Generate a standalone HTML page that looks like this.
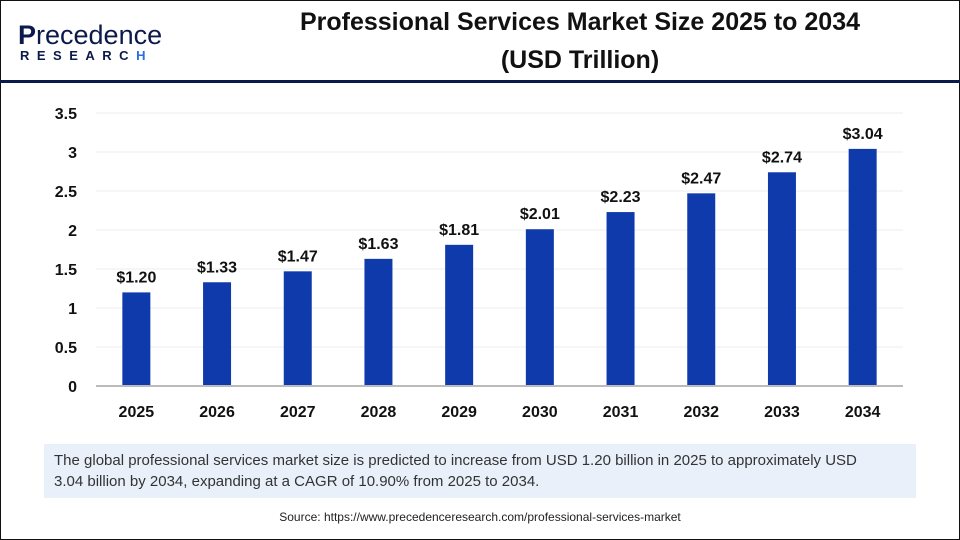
<!DOCTYPE html>
<html><head><meta charset="utf-8"><style>
body{margin:0;width:960px;height:540px;overflow:hidden;background:#fff;font-family:"Liberation Sans",Arial,sans-serif}
#frame{position:absolute;left:0;top:0;width:958px;height:538px;border:1px solid #111}
#sep{position:absolute;left:0;top:80px;width:960px;height:3px;background:#0b1a4a}
#title{position:absolute;left:230px;width:700px;top:3px;text-align:center;font-weight:bold;font-size:25px;line-height:38px;color:#111}
#logo1{position:absolute;left:18px;top:20px;font-size:27px;color:#0b1a4a;letter-spacing:0px}
#logo2{position:absolute;left:20px;top:48px;font-size:13px;font-weight:bold;color:#0b1a4a;letter-spacing:7.5px}
#note{position:absolute;left:44px;top:444px;width:872px;height:54px;background:#e9f0fa;font-size:15px;line-height:21px;color:#333;padding:6px 30px 6px 10px;box-sizing:border-box}
#src{position:absolute;top:510px;width:960px;text-align:center;font-size:12px;color:#222}
</style></head><body>
<div id="frame"></div>
<div id="logo1"><b>P</b>recedence</div>
<div id="logo2">RESEARC<span style="color:#2d6ee0">H</span></div>
<div id="title">Professional Services Market Size 2025 to 2034<br>(USD Trillion)</div>
<div id="sep"></div>
<svg id="chart" width="960" height="540" style="position:absolute;left:0;top:0"></svg>
<div id="note">The global professional services market size is predicted to increase from USD 1.20 billion in 2025 to approximately USD 3.04 billion by 2034, expanding at a CAGR of 10.90% from 2025 to 2034.</div>
<div id="src">Source: https://www.precedenceresearch.com/professional-services-market</div>
<script>
const categories=["2025","2026","2027","2028","2029","2030","2031","2032","2033","2034"];
const values=[1.20,1.33,1.47,1.63,1.81,2.01,2.23,2.47,2.74,3.04];
const valueLabels=["$1.20","$1.33","$1.47","$1.63","$1.81","$2.01","$2.23","$2.47","$2.74","$3.04"];
const yTicks=[0,0.5,1,1.5,2,2.5,3,3.5];
const yTickLabels=["0","0.5","1","1.5","2","2.5","3","3.5"];
const NS="http://www.w3.org/2000/svg";
const svg=document.getElementById('chart');
const x0=96,x1=903,y0=386,yTop=113,yMax=3.5;
const band=(x1-x0)/categories.length;
const y=v=>y0-(v/yMax)*(y0-yTop);
const xc=i=>x0+band*(i+0.5);
function mk(t,a){const e=document.createElementNS(NS,t);for(const k in a)e.setAttribute(k,a[k]);svg.appendChild(e);return e;}
yTicks.forEach((t,i)=>{
  if(t>0){const g=mk('line',{x1:x0,x2:x1,y1:y(t),y2:y(t),stroke:'#ececec','stroke-width':1});
  
  }
  const l=mk('text',{x:77,y:y(t)+6,'text-anchor':'end','font-size':16,'font-weight':'bold',fill:'#111'});
  l.textContent=yTickLabels[i];
  
  
});
categories.forEach((c,i)=>{
  const b=mk('rect',{x:xc(i)-14,y:y(values[i]),width:28,height:y0-y(values[i]),fill:'#0f3aab'});
  
  
  const v=mk('text',{x:xc(i),y:y(values[i])-10,'text-anchor':'middle','font-size':16,'font-weight':'bold',fill:'#111'});
  v.textContent=valueLabels[i];
  
  
  const l=mk('text',{x:xc(i),y:417,'text-anchor':'middle','font-size':16,'font-weight':'bold',fill:'#111'});
  l.textContent=c;
  
  
});
const ax=mk('line',{x1:x0,x2:x1,y1:y0,y2:y0,stroke:'#bbb','stroke-width':2});


</script>
</body></html>
